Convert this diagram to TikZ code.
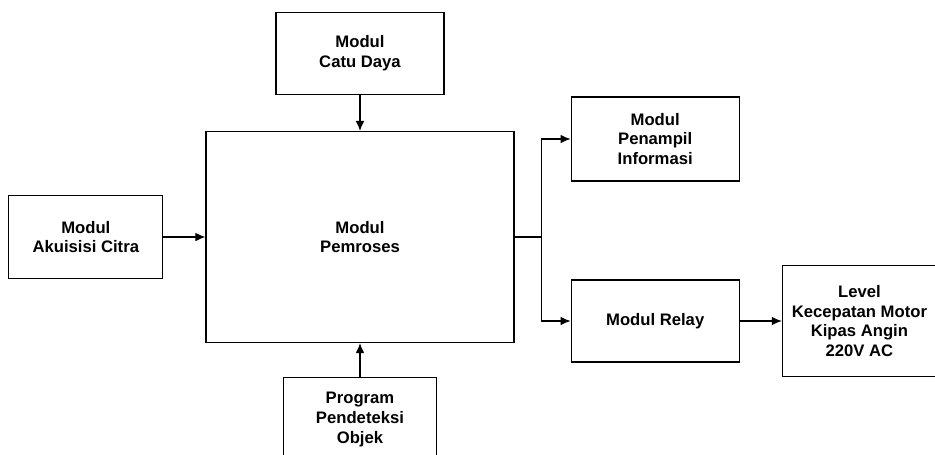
\documentclass[tikz,border=0pt]{standalone}
\usepackage{fontspec}
\setmainfont{Liberation Sans}
\usetikzlibrary{positioning,arrows.meta}
\tikzset{
  block/.style={
    draw,
    rectangle,
    line width=0.9pt,
    align=center,
    font=\bfseries\fontsize{12.5}{14.8}\selectfont
  },
  line/.style={line width=0.9pt,-{Latex[length=7.5pt,width=6.5pt]}},
  wire/.style={line width=0.9pt}
}
\begin{document}
\begin{tikzpicture}

	\useasboundingbox (-270pt,-162.75pt) rectangle (431.25pt,177.75pt);
	\clip (-270pt,-162.75pt) rectangle (431.25pt,177.75pt);

	\node[block, minimum width=231pt, minimum height=158.25pt] (pemroses) {Modul\\Pemroses};

	% input side
	\node[block, minimum width=115.5pt, minimum height=62.25pt, left = 31.5pt of pemroses] (akuisisi) {Modul\\Akuisisi Citra};
	\draw[line] (akuisisi.east) -- (pemroses.west);

	\node[block, minimum width=126pt, minimum height=61.5pt, above = 27pt of pemroses] (catu_daya) {Modul\\Catu Daya};
	\draw[line] (catu_daya.south) -- (pemroses.north);

	\node[block, minimum width=115pt, minimum height=63pt, below = 25.5pt of pemroses] (program) {Program\\Pendeteksi\\Objek};
	\draw[line] (program.north) -- (pemroses.south);

	% output side
	\coordinate (split) at ([xshift=20.25pt]pemroses.east);
	\node[block, minimum width=126pt, minimum height=63pt, anchor=west] (penampil) at ([xshift=42pt, yshift=73.5pt]pemroses.east) {Modul\\Penampil\\Informasi};
	\node[block, minimum width=126pt, minimum height=61.5pt, anchor=west] (relay) at ([xshift=42pt, yshift=-63pt]pemroses.east) {Modul Relay};
	\node[block, minimum width=115.5pt, minimum height=83.25pt, right = 31.5pt of relay] (level) {Level\\Kecepatan Motor\\Kipas Angin\\220V AC};

	\draw[wire] (pemroses.east) -- (split);
	\draw[line] (split) |- (penampil.west);
	\draw[line] (split) |- (relay.west);
	\draw[line] (relay.east) -- (level.west);

\end{tikzpicture}
\end{document}
